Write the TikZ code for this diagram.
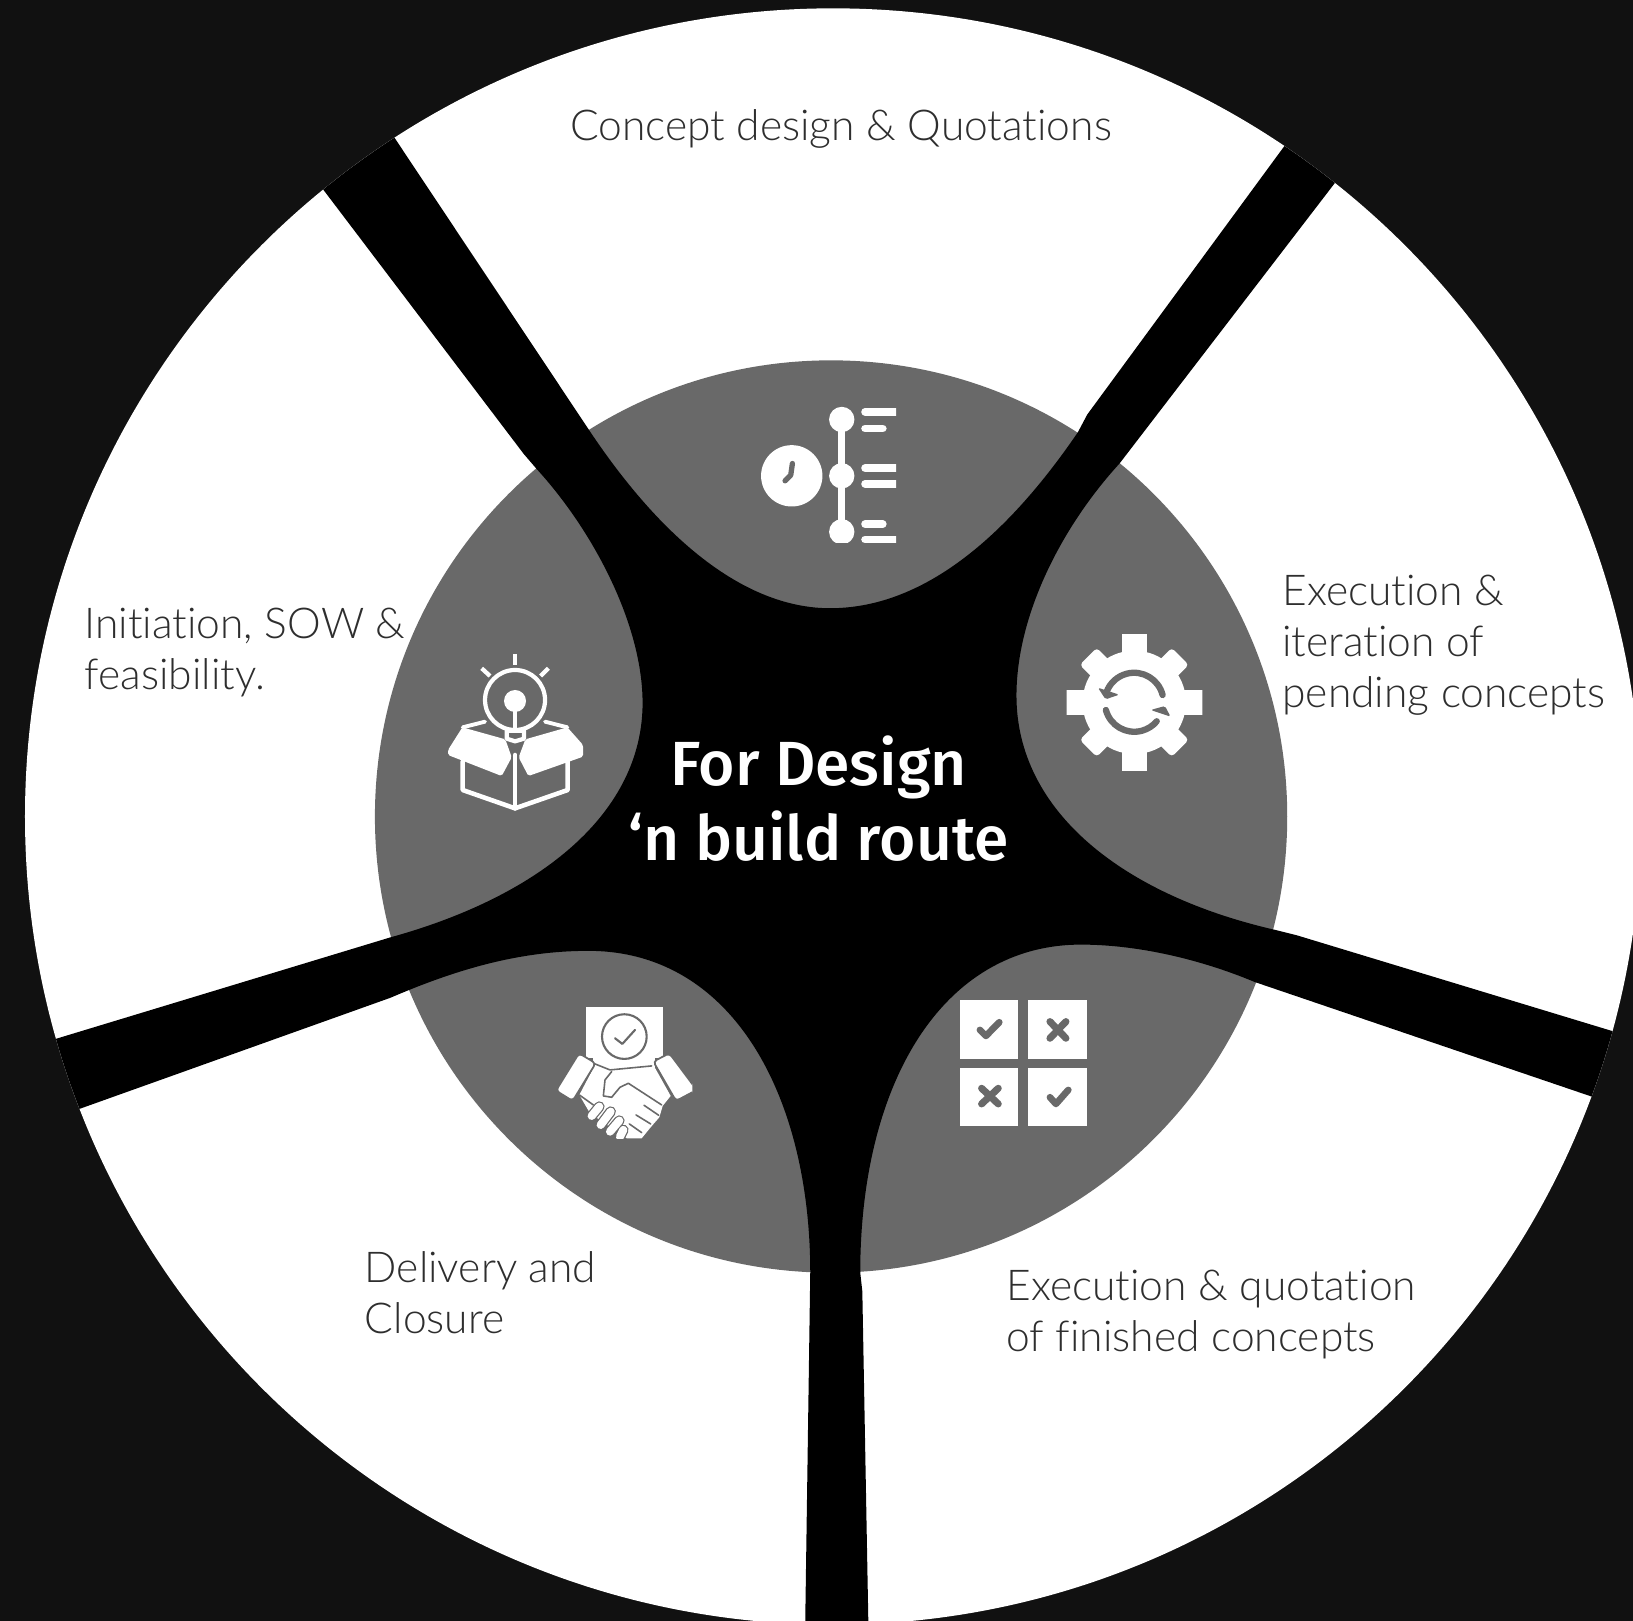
\documentclass[tikz,border=0pt]{standalone}
\usepackage{fontspec}
\setmainfont[Ligatures=NoCommon]{Lato Light}
\newfontfamily\boldish{Fira Sans Medium}
\definecolor{bgc}{HTML}{111111}
\definecolor{greyc}{HTML}{696969}
\definecolor{inkc}{HTML}{2E2E2E}
\tikzset{
  lbl/.style={anchor=north west,inner sep=0pt,align=left,text=inkc,font=\fontsize{24.2pt}{29pt}\selectfont},
  ctr/.style={anchor=center,inner sep=0pt,align=center,text=white,font=\boldish\fontsize{35.5pt}{43pt}\selectfont},
  wl/.style={draw=white,line cap=round,line join=round},
  gl/.style={draw=greyc,line cap=round,line join=round},
  iconscope/.style={x=0.0066667cm,y=-0.0066667cm}
}
\begin{document}
\begin{tikzpicture}[x=0.020829cm,y=-0.020829cm]
\useasboundingbox (0,0) rectangle (1568,1556.4);
\fill[bgc] (0,0) rectangle (1568,1556.4);
\begin{scope}
\clip (0,0) rectangle (1568,1556.4);
\fill[white] (800,784) circle[radius=776];
\fill[greyc] (798,784) circle[radius=438];
\clip (800,784) circle[radius=776];
\fill[black] (356,98) -- (565,412)
  .. controls (640,525) and (720,584) .. (797,584)
  .. controls (880,584) and (960,525) .. (1035,415)
  -- (1044,398) -- (1254,112) -- (1303,148) -- (1075,445)
  .. controls (1020,505) and (976,590) .. (976,668)
  .. controls (976,780) and (1080,860) .. (1225,893)
  -- (1245,898) -- (1581,1000) -- (1558,1063) -- (1205,943)
  .. controls (1150,920) and (1090,907) .. (1038,907)
  .. controls (905,907) and (826,1040) .. (826,1222)
  -- (828,1240) -- (834,1570) -- (773,1570) -- (778,1222)
  .. controls (778,1055) and (705,913) .. (565,913)
  .. controls (500,913) and (440,930) .. (375,958)
  -- (42,1077) -- (19,1008) -- (375,900)
  .. controls (520,860) and (617,780) .. (617,675)
  .. controls (617,600) and (570,510) .. (515,450)
  -- (503,436) -- (280,142) -- cycle;
\end{scope}

\node[lbl] (top) at (547,105) {Concept design \& Quotations};
\node[lbl] (right) at (1231,552) {Execution \&\\iteration of\\pending concepts};
\node[lbl] (left) at (81,584) {Initiation, SOW \&\\feasibility.};
\node[lbl] (bl) at (350,1201) {Delivery and\\Closure};
\node[lbl] (br) at (966,1219) {Execution \& quotation\\of finished concepts};
\node[ctr] (centre) at (786,767) {For Design\\‘n build route};

% timeline icon
\begin{scope}[shift={(701,365)},iconscope]
\clip (90,80) rectangle (498,488);
\fill[white] (185,287) circle[radius=92];
\draw[gl,line width=3pt] (187,250) -- (182,285) -- (165,302);
\draw[white,line width=4pt] (335,118) -- (335,455);
\foreach \yy in {118,287,455} \fill[white] (335,\yy) circle[radius=38];
\foreach \yy/\xe in {95/520,145/458,264/520,311/520,432/458,478/520}
  \draw[wl,line width=4.4pt] (405,\yy) -- (\xe,\yy);
\end{scope}

% gear icon
\begin{scope}[shift={(998.5,585.7)},iconscope]
\clip (80,75) rectangle (487,480);
\fill[white] (283,277) circle[radius=155];
\foreach \aa in {0,90,180,270}
  \fill[white,rotate around={\aa:(283,277)}] (245,277) rectangle (321,60);
\foreach \aa in {45,135,225,315}
  \fill[white,rounded corners=2pt,rotate around={\aa:(283,277)}] (247,277) rectangle (319,82);
\draw[gl,line width=3.6pt] (368,255) arc[start angle=-14,end angle=-160,radius=88];
\fill[greyc,rounded corners=1pt] (174,233) -- (238,254) -- (197,268) -- cycle;
\draw[gl,line width=3.6pt] (198,300) arc[start angle=165,end angle=40,radius=88];
\fill[greyc,rounded corners=1pt] (392,320) -- (332,300) -- (375,288) -- cycle;
\end{scope}

% grid icon
\begin{scope}[shift={(892.9,940.9)},iconscope]
\fill[white] (90,60) rectangle (265,237);
\fill[white] (295,60) rectangle (470,237);
\fill[white] (90,265) rectangle (265,437);
\fill[white] (295,265) rectangle (470,437);
\draw[gl,line width=3.8pt] (150,150) -- (168,168) -- (208,127);
\draw[gl,line width=4pt] (360,125) -- (408,175) (408,125) -- (360,175);
\draw[gl,line width=4pt] (155,325) -- (205,372) (205,325) -- (155,372);
\draw[gl,line width=3.8pt] (360,352) -- (378,372) -- (415,330);
\end{scope}

% handshake icon
\begin{scope}[shift={(518.5,950.5)},iconscope]
\clip (50,50) rectangle (457,447);
\fill[white] (137,50) rectangle (370,205);
\fill[white] (160,200) rectangle (345,245);
\draw[greyc,line width=1.2pt] (253,140) circle[radius=67];
\draw[gl,line width=1.2pt] (225,145) -- (247,162) -- (285,120);
% hand body
\fill[white,line join=round] (165,225) -- (210,245) -- (340,225) -- (392,318) -- (368,348)
  -- (358,382) -- (332,412) -- (305,445) -- (260,445) -- (150,370) -- (118,315) -- cycle;
% cuffs
\fill[white,rounded corners=2pt,draw=greyc,line width=1pt] (117,190) -- (167,220) -- (98,333) -- (48,302) -- cycle;
\fill[white,rounded corners=2pt,draw=greyc,line width=1pt] (388,190) -- (340,215) -- (408,333) -- (470,300) -- cycle;
% doc / hand separation
\draw[gl,line width=.9pt] (165,222) -- (210,240) -- (335,228);
\draw[gl,line width=.9pt] (215,245) -- (195,270) -- (190,318) -- (215,322) -- (240,292) -- (265,280) -- (365,345);
\draw[gl,line width=.9pt] (160,345) -- (118,315);
% right-hand finger gaps
\draw[gl,line width=.9pt] (312,346) -- (356,376) (288,375) -- (332,402) (268,402) -- (305,428);
% left-hand fingers
\foreach \xa/\ya/\xb/\yb in {155/378/178/350,182/405/212/365,210/425/238/392,240/440/250/420}
  \draw[draw=greyc,line width=6pt,line cap=round] (\xa,\ya) -- (\xb,\yb);
\foreach \xa/\ya/\xb/\yb in {155/378/178/350,182/405/212/365,210/425/238/392,240/440/250/420}
  \draw[draw=white,line width=4.6pt,line cap=round] (\xa,\ya) -- (\xb,\yb);
\end{scope}

% box + bulb icon
\begin{scope}[shift={(412.9,614.5)},iconscope]
\clip (50,40) rectangle (459,512);
\draw[wl,line width=2.4pt] (255,180) circle[radius=90];
\fill[white] (255,183) circle[radius=33];
\draw[white,line width=2pt] (255,200) -- (255,275);
\draw[white,line width=2.6pt] (255,42) -- (255,75);
\draw[white,line width=2.4pt] (155,85) -- (180,108) (355,85) -- (332,108);
\draw[wl,line width=2.4pt] (230,272) -- (230,296) -- (255,304) -- (282,296) -- (282,272) -- cycle;
\fill[white,rounded corners=1pt] (54,330) -- (97,262) -- (226,298) -- (245,352) -- (215,408) -- (54,345) -- cycle;
\fill[white,rounded corners=1pt] (286,298) -- (412,262) -- (459,315) -- (459,350) -- (295,408) -- (266,352) -- cycle;
\draw[wl,line width=2.2pt] (98,262) -- (165,245) (345,245) -- (412,262);
\draw[wl,line width=2.6pt] (98,365) -- (98,450) -- (255,505) -- (413,450) -- (413,365);
\draw[wl,line width=2.6pt] (255,345) -- (255,505);
\end{scope}
\end{tikzpicture}
\end{document}
